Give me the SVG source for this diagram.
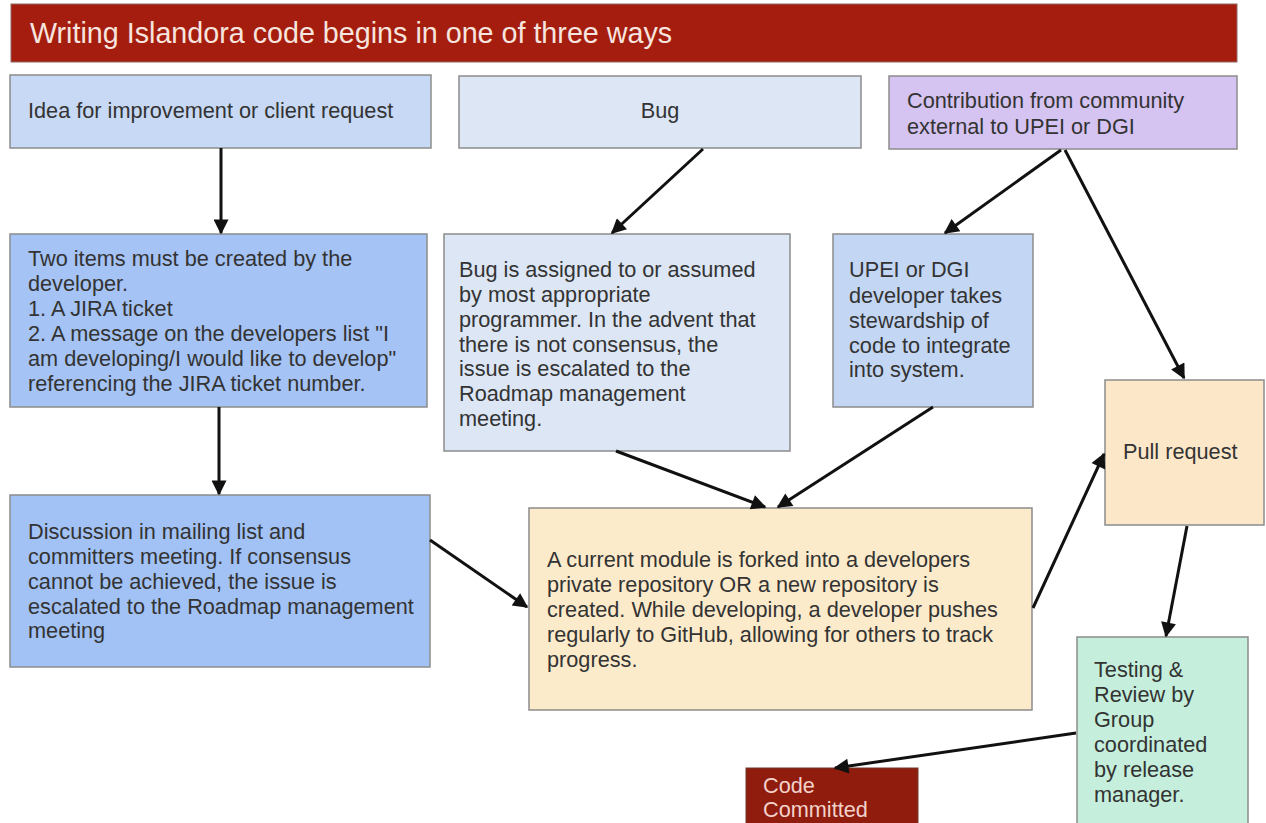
<svg xmlns="http://www.w3.org/2000/svg" width="1266" height="823" viewBox="0 0 1266 823">
<style>
  .box { stroke: #8c8c8c; stroke-width: 1.5; }
  .t { font-family: "Liberation Sans", Arial, sans-serif; font-size: 21.7px; fill: #333333; }
  .tl { font-family: "Liberation Sans", Arial, sans-serif; font-size: 21.7px; fill: #f2d2ca; }
  .title { font-family: "Liberation Sans", Arial, sans-serif; font-size: 28.7px; fill: #f6e4df; }
  .conn line { stroke: #111; stroke-width: 3; marker-end: url(#ah); }
</style>
<defs>
  <marker id="ah" viewBox="0 0 10 10" refX="9" refY="5" markerWidth="18" markerHeight="15" markerUnits="userSpaceOnUse" orient="auto">
    <path d="M0,0 L10,5 L0,10 z" fill="#111"/>
  </marker>
</defs>
<rect width="1266" height="823" fill="#ffffff"/>

<g id="title">
  <rect x="11" y="4" width="1226" height="58" fill="#a51d0e" stroke="#8c6a66" stroke-width="1"/>
  <text class="title" x="30" y="43">Writing Islandora code begins in one of three ways</text>
</g>

<g id="idea">
  <rect class="box" x="10" y="75" width="421" height="73" fill="#c7d9f4"/>
  <text class="t" x="28" y="118">Idea for improvement or client request</text>
</g>

<g id="bug">
  <rect class="box" x="459" y="76" width="402" height="72" fill="#dce6f4"/>
  <text class="t" x="660" y="118" text-anchor="middle">Bug</text>
</g>

<g id="contribution">
  <rect class="box" x="889" y="76" width="348" height="73" fill="#d5c3f1"/>
  <text class="t" x="907" y="108">Contribution from community</text>
  <text class="t" x="907" y="134">external to UPEI or DGI</text>
</g>

<g id="two-items">
  <rect class="box" x="10" y="234" width="417" height="173" fill="#a5c3f4"/>
  <text class="t" x="28" y="266">Two items must be created by the</text>
  <text class="t" x="28" y="291">developer.</text>
  <text class="t" x="28" y="316">1. A JIRA ticket</text>
  <text class="t" x="28" y="341">2. A message on the developers list "I</text>
  <text class="t" x="28" y="366">am developing/I would like to develop"</text>
  <text class="t" x="28" y="391">referencing the JIRA ticket number.</text>
</g>

<g id="bug-assigned">
  <rect class="box" x="444" y="234" width="346" height="217" fill="#dce6f4"/>
  <text class="t" x="459" y="277">Bug is assigned to or assumed</text>
  <text class="t" x="459" y="302">by most appropriate</text>
  <text class="t" x="459" y="327">programmer. In the advent that</text>
  <text class="t" x="459" y="352">there is not consensus, the</text>
  <text class="t" x="459" y="376">issue is escalated to the</text>
  <text class="t" x="459" y="401">Roadmap management</text>
  <text class="t" x="459" y="426">meeting.</text>
</g>

<g id="upei">
  <rect class="box" x="833" y="234" width="200" height="173" fill="#c3d6f3"/>
  <text class="t" x="849" y="277">UPEI or DGI</text>
  <text class="t" x="849" y="303">developer takes</text>
  <text class="t" x="849" y="328">stewardship of</text>
  <text class="t" x="849" y="353">code to integrate</text>
  <text class="t" x="849" y="377">into system.</text>
</g>

<g id="pull-request">
  <rect class="box" x="1105" y="380" width="159" height="145" fill="#fce8c9"/>
  <text class="t" x="1123" y="459">Pull request</text>
</g>

<g id="discussion">
  <rect class="box" x="10" y="495" width="420" height="172" fill="#a2c2f5"/>
  <text class="t" x="28" y="539">Discussion in mailing list and</text>
  <text class="t" x="28" y="564">committers meeting. If consensus</text>
  <text class="t" x="28" y="589">cannot be achieved, the issue is</text>
  <text class="t" x="28" y="614">escalated to the Roadmap management</text>
  <text class="t" x="28" y="638">meeting</text>
</g>

<g id="fork">
  <rect class="box" x="529" y="508" width="503" height="202" fill="#fcebcb"/>
  <text class="t" x="547" y="567">A current module is forked into a developers</text>
  <text class="t" x="547" y="592">private repository OR a new repository is</text>
  <text class="t" x="547" y="617">created. While developing, a developer pushes</text>
  <text class="t" x="547" y="642">regularly to GitHub, allowing for others to track</text>
  <text class="t" x="547" y="667">progress.</text>
</g>

<g id="testing">
  <rect class="box" x="1077" y="637" width="171" height="200" fill="#c5efdc"/>
  <text class="t" x="1094" y="677">Testing &amp;</text>
  <text class="t" x="1094" y="702">Review by</text>
  <text class="t" x="1094" y="727">Group</text>
  <text class="t" x="1094" y="752">coordinated</text>
  <text class="t" x="1094" y="777">by release</text>
  <text class="t" x="1094" y="802">manager.</text>
</g>

<g id="code-committed">
  <rect x="746" y="768" width="172" height="70" fill="#8f1c0d" stroke="#6e3a33" stroke-width="1"/>
  <text class="tl" x="763" y="793">Code</text>
  <text class="tl" x="763" y="817">Committed</text>
</g>

<g id="connectors" class="conn">
  <line x1="221" y1="148" x2="221" y2="233"/>
  <line x1="219" y1="407" x2="219" y2="494"/>
  <line x1="703" y1="149" x2="612" y2="233"/>
  <line x1="1061" y1="150" x2="945" y2="233"/>
  <line x1="1065" y1="150" x2="1184" y2="378"/>
  <line x1="616" y1="451" x2="765" y2="507"/>
  <line x1="933" y1="407" x2="778" y2="507"/>
  <line x1="430" y1="540" x2="527" y2="607"/>
  <line x1="1033" y1="608" x2="1104" y2="454"/>
  <line x1="1187" y1="526" x2="1166" y2="636"/>
  <line x1="1076" y1="733" x2="835" y2="768"/>
</g>
</svg>
